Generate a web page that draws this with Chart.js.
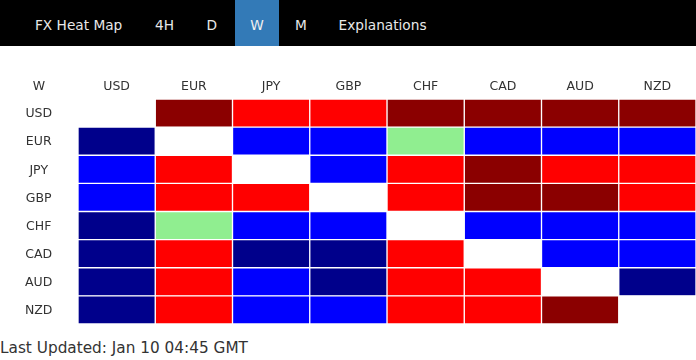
<!DOCTYPE html>
<html>
<head>
<meta charset="utf-8">
<script src="https://cdn.jsdelivr.net/npm/chart.js@4/dist/chart.umd.min.js"></script>
<style>
  html, body { margin: 0; padding: 0; background: #fff; }
  body { width: 696px; height: 360px; position: relative; overflow: hidden; font-family: "DejaVu Sans", Verdana, sans-serif; }
  #nav { position: absolute; left: 0; top: 0; width: 696px; height: 46px; background: #000; }
  #nav span, #nav div { position: absolute; top: 0; height: 46px; line-height: 46px; font-size: 13.7px; color: #e8e8e8; white-space: nowrap; padding-top: 2px; box-sizing: border-box; }
  #nav .active { background: #337ab7; width: 44px; text-align: center; color: #f0f0f0; }
  #chartBox { position: absolute; left: 0; top: 46px; width: 696px; height: 278px; }
  #footer { position: absolute; left: 0; top: 340px; font-size: 15.3px; line-height: 16px; color: #333; white-space: nowrap; }
</style>
</head>
<body>
<div id="nav">
  <span style="left:35px">FX Heat Map</span>
  <span style="left:155px">4H</span>
  <span style="left:206.5px">D</span>
  <div class="active" style="left:235px">W</div>
  <span style="left:295px">M</span>
  <span style="left:338.5px">Explanations</span>
</div>
<div id="chartBox"><canvas id="c"></canvas></div>
<div id="footer">Last Updated: Jan 10 04:45 GMT</div>
<script>
// Row / column currencies
const rowLabels = ['USD', 'EUR', 'JPY', 'GBP', 'CHF', 'CAD', 'AUD', 'NZD'];
const colLabels = ['USD', 'EUR', 'JPY', 'GBP', 'CHF', 'CAD', 'AUD', 'NZD'];
const cornerLabel = 'W';

// Strength level per cell: 2 = strong up, 1 = up, 0 = neutral, -1 = down, -2 = strong down, null = same pair
const usdRow = [null, 2, 1, 1, 2, 2, 2, 2];
const eurRow = [-2, null, -1, -1, 0, -1, -1, -1];
const jpyRow = [-1, 1, null, -1, 1, 2, 1, 1];
const gbpRow = [-1, 1, 1, null, 1, 2, 2, 1];
const chfRow = [-2, 0, -1, -1, null, -1, -1, -1];
const cadRow = [-2, 1, -2, -2, 1, null, -1, -1];
const audRow = [-2, 1, -1, -2, 1, 1, null, -2];
const nzdRow = [-2, 1, -1, -1, 1, 1, 2, null];

const levelColors = { '2': '#8b0000', '1': '#ff0000', '0': '#90ee90', '-1': '#0000ff', '-2': '#00008b', 'null': '#ffffff' };

const grid = [usdRow, eurRow, jpyRow, gbpRow, chfRow, cadRow, audRow, nzdRow];

// one stacked dataset per column; each cell takes one unit of width
const datasets = colLabels.map((col, ci) => ({
  label: col,
  data: rowLabels.map(() => 1),
  backgroundColor: grid.map(row => levelColors[String(row[ci])]),
  borderColor: '#ffffff',
  borderWidth: 1,
  borderSkipped: false,
  barPercentage: 1,
  categoryPercentage: 1
}));

const labelFont = { family: 'DejaVu Sans', size: 12.5 };

const cornerPlugin = {
  id: 'corner',
  afterDraw(chart) {
    const ctx = chart.ctx;
    const y = chart.scales.y, x2 = chart.scales.x2;
    ctx.save();
    ctx.font = '12.5px "DejaVu Sans"';
    ctx.fillStyle = '#333';
    ctx.textAlign = 'center';
    ctx.textBaseline = 'middle';
    ctx.fillText(cornerLabel, (y.left + y.right) / 2, x2.bottom - 5 - 7.5);
    ctx.restore();
  }
};

new Chart(document.getElementById('c'), {
  type: 'bar',
  data: { labels: rowLabels, datasets },
  options: {
    indexAxis: 'y',
    responsive: true,
    maintainAspectRatio: false,
    animation: false,
    events: [],
    layout: { padding: 0 },
    plugins: { legend: { display: false }, tooltip: { enabled: false } },
    scales: {
      x: { stacked: true, min: 0, max: 8, display: false },
      x2: {
        type: 'category', axis: 'x', labels: colLabels, position: 'top', offset: true,
        grid: { display: false, drawTicks: false }, border: { display: false },
        ticks: { color: '#333', padding: 5, font: labelFont, maxRotation: 0, autoSkip: false },
        afterFit(s) { s.height = 53; s.paddingLeft = 0; s.paddingRight = 0; }
      },
      y: {
        stacked: true, offset: true,
        grid: { display: false, drawTicks: false }, border: { display: false },
        ticks: { color: '#333', padding: 25.5, crossAlign: 'center', labelOffset: 1, font: labelFont, autoSkip: false },
        afterFit(s) { s.width = 78; s.paddingTop = 0; s.paddingBottom = 0; }
      }
    }
  },
  plugins: [cornerPlugin]
});
</script>
</body>
</html>
